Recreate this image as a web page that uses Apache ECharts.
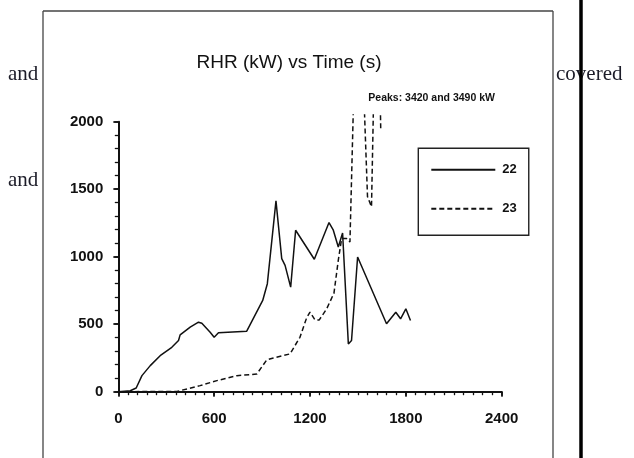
<!DOCTYPE html>
<html>
<head>
<meta charset="utf-8">
<script src="https://cdn.jsdelivr.net/npm/echarts@6/dist/echarts.min.js"></script>
<style>
html,body{margin:0;padding:0;background:#fff;}
#c{width:634px;height:458px;}
</style>
</head>
<body>
<div id="c"></div>
<script>
// Series "22" (solid): time (s) and RHR (kW)
var time22 = [0, 75, 112, 148, 200, 262, 335, 377, 387, 450, 502, 523, 575, 600, 627, 804, 904, 933, 987, 1023, 1044, 1079, 1110, 1227, 1319, 1346, 1377, 1404, 1440, 1460, 1498, 1679, 1737, 1767, 1800, 1829];
var rhr22  = [0, 7, 27, 119, 193, 267, 329, 379, 421, 478, 515, 507, 441, 404, 436, 448, 676, 800, 1414, 986, 936, 775, 1196, 981, 1253, 1196, 1072, 1176, 354, 379, 998, 503, 589, 540, 614, 527];
// Series "23" (dashed)
var time23 = [0, 367, 512, 617, 742, 867, 929, 971, 1075, 1137, 1179, 1200, 1231, 1258, 1304, 1350, 1377, 1398, 1429, 1450, 1500, 1560, 1585, 1620, 1643];
var rhr23  = [0, 2, 45, 82, 119, 131, 235, 250, 280, 403, 547, 589, 532, 532, 613, 730, 973, 1134, 1134, 1109, 3420, 1445, 1370, 3490, 1930];
var seriesNames = ['22', '23'];
var xTicks = [0, 600, 1200, 1800, 2400];
var yTicks = [0, 500, 1000, 1500, 2000];
var titleText = 'RHR (kW) vs Time (s)';
var noteText = 'Peaks: 3420 and 3490 kW';

function pairs(t, v) { return t.map(function (x, i) { return [x, v[i]]; }); }
function plain(v) { return String(v); }

var chart = echarts.init(document.getElementById('c'), null, {renderer: 'canvas'});
var axisFont = {fontFamily: 'Liberation Sans, Arial, sans-serif', fontSize: 15, fontWeight: 'bold', color: '#111', formatter: plain};
var gridLeft = 118.3, gridW = 383.4, gridBottomPx = 391.7;
var pxPerKW = 270 / 2000;
var clipTop = 2050;
var serif = '21px "Liberation Serif", "Times New Roman", serif';

var option = {
  backgroundColor: '#fff',
  animation: false,
  grid: [
    {left: gridLeft, width: gridW, top: gridBottomPx - clipTop * pxPerKW, height: clipTop * pxPerKW},
    {left: gridLeft, width: gridW, top: gridBottomPx - 2000 * pxPerKW, height: 2000 * pxPerKW}
  ],
  xAxis: [
    {gridIndex: 0, type: 'value', min: 0, max: xTicks[xTicks.length - 1], show: false},
    {gridIndex: 1, type: 'value', min: xTicks[0], max: xTicks[xTicks.length - 1], interval: 600,
     axisLine: {show: true, lineStyle: {color: '#111', width: 2}},
     axisTick: {show: true, inside: false, length: 4, lineStyle: {color: '#111', width: 1.6}},
     minorTick: {show: true, splitNumber: 10, length: 3.5, lineStyle: {color: '#111', width: 1.3}},
     splitLine: {show: false},
     axisLabel: Object.assign({margin: 20}, axisFont)},
    {gridIndex: 1, type: 'value', min: xTicks[0], max: xTicks[xTicks.length - 1], interval: 600,
     axisLine: {show: false},
     axisTick: {show: true, inside: true, length: 5, lineStyle: {color: '#111', width: 1.6}},
     splitLine: {show: false}, axisLabel: {show: false}}
  ],
  yAxis: [
    {gridIndex: 0, type: 'value', min: 0, max: clipTop, show: false},
    {gridIndex: 1, type: 'value', min: yTicks[0], max: yTicks[yTicks.length - 1], interval: 500,
     axisLine: {show: true, lineStyle: {color: '#111', width: 2}},
     axisTick: {show: true, inside: false, length: 5, lineStyle: {color: '#111', width: 1.6}},
     minorTick: {show: true, splitNumber: 5, length: 3.5, lineStyle: {color: '#111', width: 1.3}},
     splitLine: {show: false},
     axisLabel: Object.assign({margin: 15}, axisFont)},
    {gridIndex: 1, type: 'value', min: yTicks[0], max: yTicks[yTicks.length - 1], interval: 500,
     axisLine: {show: false},
     axisTick: {show: true, inside: true, length: 4, lineStyle: {color: '#111', width: 1.6}},
     splitLine: {show: false}, axisLabel: {show: false}}
  ],
  legend: {
    left: 418.3, top: 148.3, orient: 'vertical',
    data: seriesNames,
    padding: [15, 12, 20, 12],
    itemWidth: 64, itemHeight: 14, itemGap: 26,
    borderColor: '#222', borderWidth: 1.4,
    itemStyle: {opacity: 0},
    textStyle: {fontFamily: 'Liberation Sans, Arial, sans-serif', fontSize: 13, fontWeight: 'bold', color: '#111', padding: [0,0,0,2]}
  },
  series: [
    {name: seriesNames[0], type: 'line', xAxisIndex: 0, yAxisIndex: 0, symbol: 'none', clip: true,
     data: pairs(time22, rhr22), lineStyle: {color: '#111', width: 1.5}, itemStyle: {color: '#111'}},
    {name: seriesNames[1], type: 'line', xAxisIndex: 0, yAxisIndex: 0, symbol: 'none', clip: true,
     data: pairs(time23, rhr23), lineStyle: {color: '#111', width: 1.5, type: [5, 3]}, itemStyle: {color: '#111'}}
  ],
  graphic: [
    {type: 'line', shape: {x1: 43, y1: 11, x2: 553, y2: 11}, style: {stroke: '#444', lineWidth: 1.3}},
    {type: 'line', shape: {x1: 43, y1: 11, x2: 43, y2: 458}, style: {stroke: '#444', lineWidth: 1.3}},
    {type: 'line', shape: {x1: 553, y1: 11, x2: 553, y2: 458}, style: {stroke: '#444', lineWidth: 1.3}},
    {type: 'text', x: 8, y: 74, style: {text: 'and', font: serif, fill: '#1c1c28', verticalAlign: 'middle'}},
    {type: 'text', x: 8, y: 180, style: {text: 'and', font: serif, fill: '#1c1c28', verticalAlign: 'middle'}},
    {type: 'text', x: 556, y: 74, style: {text: 'covered', font: serif, fill: '#1c1c28', verticalAlign: 'middle'}},
    {type: 'line', z: 100, shape: {x1: 581, y1: 0, x2: 581, y2: 458}, style: {stroke: '#000', lineWidth: 3.5}},
    {type: 'text', x: 289, y: 62.7, style: {text: titleText, font: '19px "Liberation Sans", Arial, sans-serif', fill: '#111', align: 'center', verticalAlign: 'middle'}},
    {type: 'text', x: 368.3, y: 98.3, style: {text: noteText, font: 'bold 10.5px "Liberation Sans", Arial, sans-serif', fill: '#111', align: 'left', verticalAlign: 'middle'}}
  ]
};
chart.setOption(option);
</script>
</body>
</html>
